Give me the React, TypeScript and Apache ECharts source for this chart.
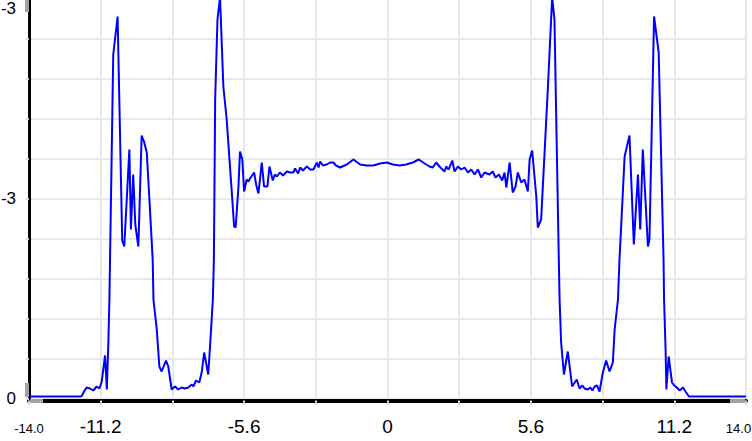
import React, { useEffect, useRef } from "react";
import * as echarts from "echarts";

// Lateral position (x) and signal (in units of 1e-3)
const xPos: number[] = [
  -14.0, -13.0, -12.0, -11.94, -11.85, -11.75, -11.62, -11.49, -11.36, -11.25,
  -11.16, -11.03, -10.96, -10.9, -10.86, -10.71, -10.54, -10.36, -10.28, -10.08,
  -10.02, -9.93, -9.85, -9.73, -9.6, -9.51, -9.4, -9.27, -9.17, -9.14,
  -9.01, -8.91, -8.82, -8.65, -8.56, -8.43, -8.3, -8.17, -8.04, -7.91,
  -7.78, -7.64, -7.58, -7.48, -7.35, -7.25, -7.16, -7.0, -6.93, -6.82,
  -6.78, -6.73, -6.64, -6.54, -6.41, -6.28, -6.08, -5.99, -5.93, -5.82,
  -5.76, -5.67, -5.6, -5.5, -5.43, -5.37, -5.26, -5.21, -5.13, -5.04,
  -4.91, -4.82, -4.69, -4.61, -4.48, -4.4, -4.32, -4.2, -4.08, -3.93,
  -3.8, -3.68, -3.61, -3.49, -3.41, -3.3, -3.15, -3.02, -2.89, -2.76,
  -2.69, -2.63, -2.52, -2.37, -2.24, -2.11, -2.01, -1.85, -1.59, -1.33,
  -1.07, -0.81, -0.55, -0.29, -0.03,
  0.21, 0.47, 0.73, 0.99, 1.22, 1.45, 1.64, 1.77, 1.9, 2.03,
  2.23, 2.29, 2.39, 2.53, 2.62, 2.75, 2.88, 3.01, 3.14, 3.27,
  3.4, 3.53, 3.66, 3.79, 3.98, 4.11, 4.22, 4.35, 4.48, 4.57,
  4.64, 4.77, 4.89, 5.0, 5.09, 5.22, 5.35, 5.48, 5.55, 5.65,
  5.81, 5.87, 6.0, 6.2, 6.26, 6.43, 6.52, 6.69, 6.72, 6.78,
  6.89, 7.04, 7.21, 7.39, 7.5, 7.61, 7.7, 7.82, 7.92, 8.0,
  8.09, 8.18, 8.28, 8.41, 8.54, 8.67, 8.8, 8.87, 9.0, 9.06,
  9.26, 9.45, 9.62, 9.78, 9.87, 9.97, 10.17, 10.23, 10.41, 10.59,
  10.78, 10.8, 10.86, 10.89, 10.98, 11.11, 11.2, 11.3, 11.41, 11.54,
  11.64, 11.77, 11.93, 13.0, 14.0,
];

const signalE3: number[] = [
  0.01, 0.01, 0.01, 0.012, 0.035, 0.055, 0.05, 0.04, 0.06, 0.05,
  0.085, 0.215, 0.045, 0.28, 0.495, 1.72, 1.91, 0.79, 0.76, 1.245,
  0.845, 1.12, 0.87, 0.76, 1.315, 1.285, 1.23, 0.93, 0.695, 0.495,
  0.345, 0.16, 0.135, 0.19, 0.16, 0.045, 0.06, 0.045, 0.055, 0.05,
  0.055, 0.07, 0.06, 0.09, 0.08, 0.135, 0.23, 0.12, 0.26, 0.495,
  0.695, 1.495, 1.895, 2.005, 1.56, 1.395, 1.03, 0.86, 0.855, 1.06,
  1.235, 1.195, 1.035, 1.095, 1.085, 1.1, 1.12, 1.13, 1.07, 1.025,
  1.18, 1.06, 1.06, 1.16, 1.09, 1.12, 1.11, 1.13, 1.115, 1.135,
  1.13, 1.13, 1.15, 1.125, 1.155, 1.14, 1.16, 1.145, 1.145, 1.18,
  1.155, 1.185, 1.165, 1.17, 1.18, 1.18, 1.165, 1.155, 1.17, 1.195,
  1.17, 1.165, 1.165, 1.175, 1.18,
  1.17, 1.165, 1.17, 1.18, 1.195, 1.175, 1.16, 1.155, 1.18, 1.16,
  1.135, 1.16, 1.145, 1.19, 1.135, 1.16, 1.145, 1.155, 1.13, 1.145,
  1.12, 1.145, 1.105, 1.13, 1.12, 1.135, 1.105, 1.12, 1.09, 1.13,
  1.055, 1.18, 1.03, 1.06, 1.13, 1.08, 1.095, 1.035, 1.195, 1.24,
  1.01, 0.855, 0.895, 1.395, 1.545, 2.005, 1.895, 0.695, 0.495, 0.28,
  0.12, 0.235, 0.06, 0.095, 0.05, 0.065, 0.05, 0.045, 0.055, 0.04,
  0.06, 0.065, 0.035, 0.13, 0.19, 0.135, 0.18, 0.345, 0.495, 0.695,
  1.21, 1.315, 0.77, 1.12, 0.845, 1.245, 0.76, 0.795, 1.91, 1.73,
  0.695, 0.495, 0.245, 0.045, 0.21, 0.08, 0.065, 0.055, 0.04, 0.055,
  0.035, 0.01, 0.01, 0.01, 0.01,
];

// Tick label texts as visible in the reference
const yZeroLabel = "0";
const yExpLabel = "-3";

const xMin = -14;
const xMax = 14;
const xStep = 2.8;
const xLabelStep = 5.6;
const yMin = 0;
const yMax = 2;
const yStep = 0.2;

const FONT = '"Liberation Sans", Arial, sans-serif';

export default function App() {
  const ref = useRef<HTMLDivElement>(null);

  useEffect(() => {
    if (!ref.current) return;
    const chart = echarts.init(ref.current, undefined, { renderer: "svg" });
    const data = xPos.map((x, i) => [x, signalE3[i]]);
    chart.setOption({
      animation: false,
      backgroundColor: "#ffffff",
      textStyle: { fontFamily: FONT },
      grid: {
        left: 29,
        right: 6,
        top: -1.5,
        bottom: 42.5,
        containLabel: false,
        outerBoundsMode: "none",
      },
      xAxis: {
        type: "value",
        min: xMin,
        max: xMax,
        interval: xStep,
        offset: 2,
        axisLine: { show: true, onZero: false, lineStyle: { color: "#000", width: 4 } },
        axisTick: { show: true, length: 4, lineStyle: { color: "#d0d0d0", width: 2 } },
        axisLabel: {
          fontSize: 19,
          color: "#000",
          fontFamily: FONT,
          margin: 16,
          hideOverlap: false,
          formatter: (v: number) => {
            const r = Math.round(v * 10) / 10;
            if (Math.abs(r + 14) < 1e-6) return `{s|${r.toFixed(1)}}`;
            if (Math.abs(r - 14) < 1e-6) return `{e|${r.toFixed(1)}}`;
            const k = r / xLabelStep;
            if (Math.abs(k - Math.round(k)) < 1e-6) return r === 0 ? "0" : r.toFixed(1);
            return "";
          },
          rich: {
            s: { fontSize: 13, color: "#000", fontFamily: FONT, padding: [5, 0, 0, 0] },
            e: { fontSize: 13, color: "#000", fontFamily: FONT, padding: [5, 15, 0, 0] },
          },
        },
        splitLine: { show: true, lineStyle: { color: "#e8e8e8", width: 2 } },
      },
      yAxis: {
        type: "value",
        min: yMin,
        max: yMax,
        interval: yStep,
        axisLine: { show: true, onZero: false, lineStyle: { color: "#000", width: 3 } },
        axisTick: { show: true, length: 3, lineStyle: { color: "#d8d8d8", width: 2 } },
        axisLabel: {
          fontSize: 17,
          color: "#000",
          fontFamily: FONT,
          margin: 13,
          formatter: (v: number) => {
            const r = Math.round(v * 10) / 10;
            if (Math.abs(r - Math.round(r)) > 1e-6) return "";
            if (r === 0) return yZeroLabel;
            if (Math.abs(r - yMax) < 1e-6) return `{t|${yExpLabel}}`;
            return yExpLabel;
          },
          rich: {
            t: { fontSize: 17, color: "#000", fontFamily: FONT, padding: [20, 0, 0, 0] },
          },
        },
        splitLine: { show: true, lineStyle: { color: "#e8e8e8", width: 2 } },
      },
      series: [
        {
          type: "line",
          data,
          showSymbol: false,
          symbol: "none",
          lineStyle: { color: "#0000ff", width: 2 },
          z: 3,
        },
      ],
      graphic: [
        { type: "rect", z: 100, shape: { x: 25, y: 0, width: 4, height: 12 }, style: { fill: "#a3a3a3" } },
        { type: "rect", z: 100, shape: { x: 25, y: 383, width: 4, height: 14 }, style: { fill: "#a3a3a3" } },
        { type: "rect", z: 100, shape: { x: 30, y: 399, width: 13, height: 4 }, style: { fill: "#a3a3a3" } },
        { type: "rect", z: 100, shape: { x: 730, y: 399, width: 15, height: 4 }, style: { fill: "#a3a3a3" } },
      ],
    });
    return () => chart.dispose();
  }, []);

  return (
    <div
      ref={ref}
      style={{ position: "fixed", left: 0, top: 0, width: 752, height: 441, background: "#fff" }}
    />
  );
}
